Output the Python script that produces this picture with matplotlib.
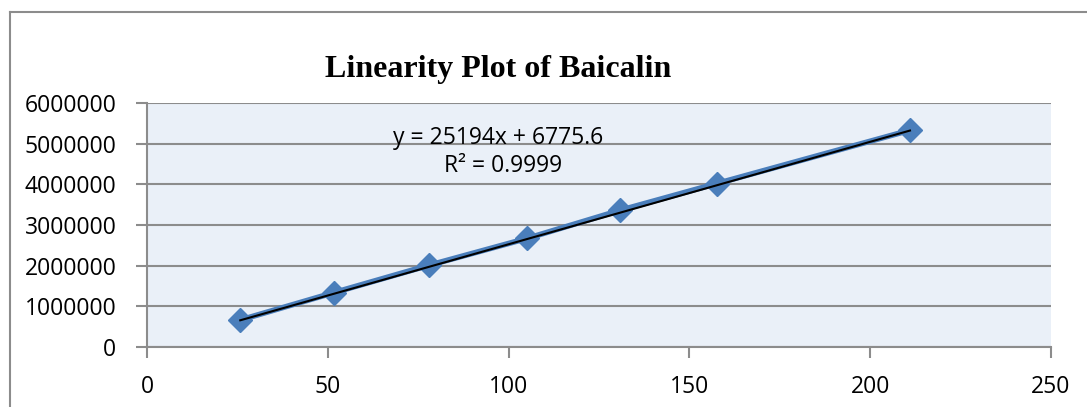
import matplotlib.pyplot as plt
from matplotlib.lines import Line2D

# concentration vs peak area
conc = [25.8, 51.8, 78.0, 105.1, 130.8, 157.6, 211.0]
area = [664000, 1340000, 2010000, 2670000, 3360000, 4020000, 5330000]
slope = 25194
intercept = 6775.6
eq_text = "y = 25194x + 6775.6"
r2_text = "R² = 0.9999"
xticks = [0, 50, 100, 150, 200, 250]
yticks = [0, 1000000, 2000000, 3000000, 4000000, 5000000, 6000000]

plt.rcParams['font.family'] = ['Open Sans', 'DejaVu Sans']

fig = plt.figure(figsize=(10.87, 4.07), dpi=100)
W, H = 1087, 407
ax = fig.add_axes([147 / W, 1 - 347 / H, (1051 - 147) / W, (347 - 103) / H])

# outer chart frame (runs off the right and bottom)
fig.add_artist(Line2D([10 / W, 10 / W], [0, 1 - 12 / H], color='#8c8c8c', lw=1.5))
fig.add_artist(Line2D([10 / W, 1.0], [1 - 12 / H, 1 - 12 / H], color='#8c8c8c', lw=1.5))

ax.set_facecolor('#eaf0f8')
ax.plot(conc, area, color='#4a7ebb', lw=4, marker='D', ms=12, zorder=3)
tx = [conc[0], conc[-1]]
ax.plot(tx, [slope * v + intercept for v in tx], color='black', lw=1.5, zorder=4)

ax.set_xlim(0, 250)
ax.set_ylim(0, 6000000)
ax.set_xticks(xticks)
ax.set_yticks(yticks)
ax.set_xticklabels([str(v) for v in xticks], fontsize=16.5)
ax.set_yticklabels([str(v) for v in yticks], fontsize=16.5)
ax.grid(axis='y', color='#8c8c8c', lw=1.5)
ax.set_axisbelow(True)
for s in ['top', 'right']:
    ax.spines[s].set_visible(False)
for s in ['left', 'bottom']:
    ax.spines[s].set_color('#8c8c8c')
    ax.spines[s].set_linewidth(1.5)
ax.tick_params(axis='both', color='#8c8c8c', width=1.5, length=8, direction='out')
ax.tick_params(axis='x', pad=12)
ax.tick_params(axis='y', pad=14)

ax.text(97, 5130000, eq_text, fontsize=16.5, ha='center', va='center')
ax.text(98.5, 4440000, r2_text, fontsize=16.5, ha='center', va='center')

fig.text(498 / W, 1 - 70 / H, "Linearity Plot of Baicalin", fontsize=23,
         fontweight='bold', family='Liberation Serif', ha='center', va='center')

fig.savefig('out.png', dpi=100)
